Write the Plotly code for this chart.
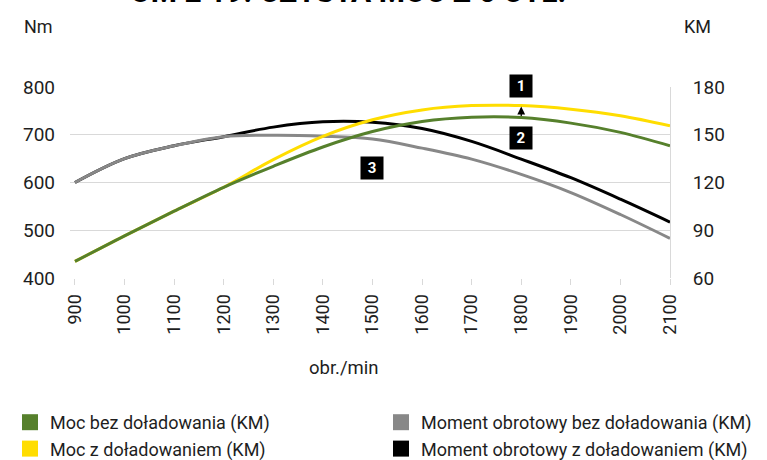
import plotly.graph_objects as go

rpm = [900, 1000, 1100, 1200, 1300, 1400, 1500, 1600, 1700, 1800, 1900, 2000, 2100]
tick_labels = ["900", "1000", "1100", "1200", "1300", "1400", "1500", "1600", "1700", "1800", "1900", "2000", "2100"]

# Power (KM) - right axis
moc_bez = [70.4, 86.5, 102.0, 117.0, 130.2, 142.3, 152.0, 158.3, 161.0, 160.8, 157.3, 151.5, 143.1]
moc_z = [70.4, 86.5, 102.0, 117.0, 134.4, 149.0, 159.4, 165.6, 168.3, 168.3, 166.0, 161.9, 155.6]
# Torque (Nm) - left axis
moment_bez = [600, 650, 677, 696, 699, 697, 691, 672, 649, 617, 579, 533, 483]
moment_z = [600, 650, 677, 696, 716, 727, 726, 713, 686, 649, 610, 565, 517]

names = ["Moc bez doładowania (KM)", "Moc z doładowaniem (KM)",
         "Moment obrotowy bez doładowania (KM)", "Moment obrotowy z doładowaniem (KM)"]

GREEN = "#56802c"
YELLOW = "#ffdd00"
GREY = "#888888"
BLACK = "#000000"
FONT = "Roboto"
TXT = "#1e1e1e"

fig = go.Figure()
lw = 3
fig.add_trace(go.Scatter(x=rpm, y=moment_z, mode="lines", line=dict(color=BLACK, width=lw, shape="spline"),
                         yaxis="y", showlegend=False))
fig.add_trace(go.Scatter(x=rpm, y=moment_bez, mode="lines", line=dict(color=GREY, width=lw, shape="spline"),
                         yaxis="y", showlegend=False))
fig.add_trace(go.Scatter(x=rpm, y=moc_z, mode="lines", line=dict(color=YELLOW, width=lw, shape="spline"),
                         yaxis="y2", showlegend=False))
fig.add_trace(go.Scatter(x=rpm, y=moc_bez, mode="lines", line=dict(color=GREEN, width=lw, shape="spline"),
                         yaxis="y2", showlegend=False))

# legend entries (square swatches), two columns = two legends
for nm, col, lg in zip(names, [GREEN, YELLOW, GREY, BLACK], ["legend", "legend", "legend2", "legend2"]):
    fig.add_trace(go.Scatter(x=[None], y=[None], mode="markers", name=nm, legend=lg,
                             marker=dict(symbol="square", size=18, color=col), yaxis="y"))

PH = 191.0
PW = 600.0
def px(x):
    return (x - 70) / PW
def py(y):
    return 1 - (y - 87) / PH

annotations = [
    dict(text="Nm", xref="paper", yref="paper", x=px(38), y=py(27), xanchor="center", yanchor="middle",
         showarrow=False, font=dict(family=FONT, size=18, color=TXT)),
    dict(text="KM", xref="paper", yref="paper", x=px(697), y=py(27), xanchor="center", yanchor="middle",
         showarrow=False, font=dict(family=FONT, size=18, color=TXT)),
    dict(text="obr./min", xref="paper", yref="paper", x=px(344), y=py(368), xanchor="center", yanchor="middle",
         showarrow=False, font=dict(family=FONT, size=18.5, color=TXT)),
    dict(text="<b>OM 2 19: CZYSTA MOC Z 6 CYL.</b>", xref="paper", yref="paper",
         x=px(348), y=py(11), xanchor="center", yanchor="bottom",
         showarrow=False, font=dict(family=FONT, size=30, color="#000")),
    # arrow from green to yellow at 1800
    dict(x=1800, y=moc_z[9] - 0.6, xref="x", yref="y2", ax=1800, ay=moc_bez[9], axref="x", ayref="y2",
         showarrow=True, arrowhead=2, arrowsize=1.2, arrowwidth=1.3, arrowcolor="#000", text=""),
]
for label, xx, yy in [("1", 1800, py(86)), ("2", 1800, py(137.5)), ("3", 1499, py(167.5))]:
    annotations.append(dict(text="<b>" + label + "</b>", x=xx, y=yy, xref="x", yref="paper", showarrow=False,
                            xanchor="center", yanchor="middle",
                            bgcolor="#000", width=20, height=20, borderpad=1,
                            font=dict(family=FONT, size=15, color="#fff")))

legend_common = dict(orientation="v", xref="container", yref="container",
                     xanchor="left", yanchor="top", tracegroupgap=0,
                     font=dict(family=FONT, size=18, color=TXT), bgcolor="rgba(0,0,0,0)")

fig.update_layout(
    width=767, height=460,
    margin=dict(l=70, r=97, t=87, b=182, autoexpand=False),
    paper_bgcolor="white", plot_bgcolor="white",
    font=dict(family=FONT, size=18, color=TXT),
    xaxis=dict(range=[890, 2100], tickvals=rpm, ticktext=tick_labels, tickangle=-90,
               showgrid=False, zeroline=False, showline=False, automargin=False,
               ticks="outside", ticklen=6, tickcolor="#d9d9d9", tickwidth=1,
               tickfont=dict(family=FONT, size=18, color=TXT), ticklabelstandoff=2),
    yaxis=dict(range=[400, 800], dtick=100, showgrid=True, gridcolor="#d9d9d9", gridwidth=1,
               zeroline=False, showline=False, ticks="", automargin=False,
               tickfont=dict(family=FONT, size=19, color=TXT), ticklabelstandoff=14),
    yaxis2=dict(range=[60, 180], dtick=30, overlaying="y", side="right", showgrid=False,
                zeroline=False, showline=True, linecolor="#d9d9d9", linewidth=1, ticks="", automargin=False,
                tickfont=dict(family=FONT, size=19, color=TXT), ticklabelstandoff=18),
    legend=dict(x=10 / 767, y=(460 - 404) / 460, **legend_common),
    legend2=dict(x=381 / 767, y=(460 - 404) / 460, **legend_common),
    annotations=annotations,
)

fig.write_html("out.html", config={"displayModeBar": False},
               post_script="document.body.style.margin='0';")
